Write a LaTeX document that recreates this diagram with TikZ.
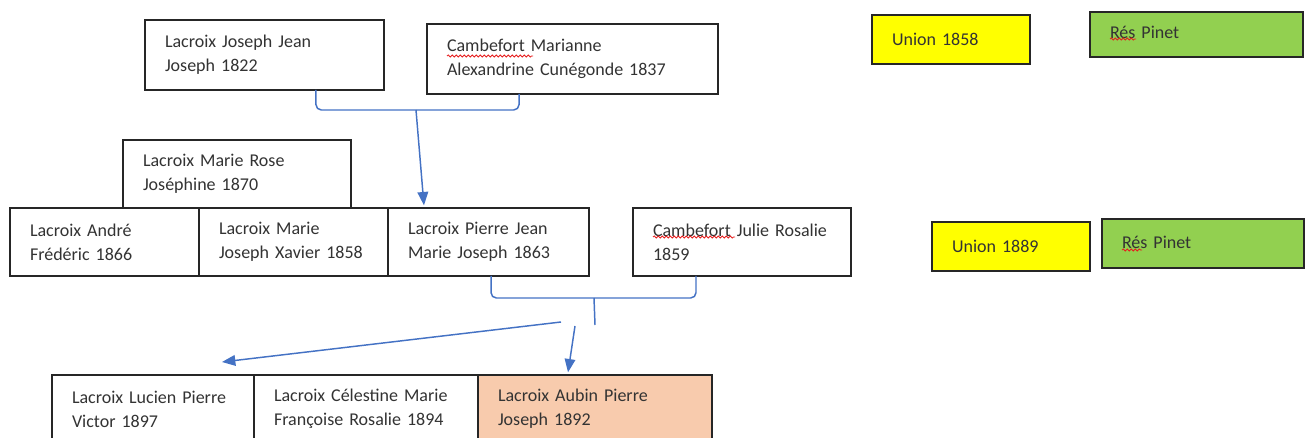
\documentclass[tikz,border=0pt]{standalone}
\usepackage{fontspec}
\setmainfont{Carlito}
\usetikzlibrary{arrows.meta,decorations.pathmorphing}
\definecolor{linkblue}{RGB}{68,114,196}
\definecolor{aubinfill}{RGB}{248,203,173}
\definecolor{unionfill}{RGB}{255,255,0}
\definecolor{resfill}{RGB}{146,208,80}
\definecolor{spellred}{RGB}{230,30,30}

\begin{document}
\begin{tikzpicture}[x=0.75pt,y=-0.75pt,
    pbox/.style={draw=black!85,line width=1.1pt,fill=white,anchor=north west,inner xsep=15pt,inner ysep=0pt,outer sep=0pt,minimum height=51pt,text width=#1,align=left,text=black!80,font=\fontsize{13.5}{18}\selectfont},
    pbox/.default=100pt,
    tag/.style={pbox=#1,minimum height=36.75pt},
    bracket/.style={draw=linkblue,line width=1.1pt,rounded corners=4pt},
    link/.style={draw=linkblue,line width=1.1pt,-{Triangle[length=10pt,width=8pt]}},
    spell/.style={draw=spellred,line width=0.6pt,decorate,decoration={snake,amplitude=0.8pt,segment length=3pt}}]
    \useasboundingbox (0,0) rectangle (1306,438);

    % parents
    \node[pbox=149.25pt,minimum height=52.5pt] (joseph) at (145,20) {Lacroix Joseph Jean\\Joseph 1822};
    \node[pbox=188.25pt,minimum height=52.5pt] (marianne) at (427,24) {Cambefort Marianne\\Alexandrine Cunégonde 1837};

    % children of 1858
    \node[pbox=141pt] (rose) at (123,140) {Lacroix Marie Rose\\Joséphine 1870};
    \node[pbox=111.75pt] (andre) at (10,208) {Lacroix André\\Frédéric 1866};
    \node[pbox=111.75pt] (xavier) at (andre.north east) {Lacroix Marie\\Joseph Xavier 1858};
    \node[pbox=120.75pt] (pierre) at (xavier.north east) {Lacroix Pierre Jean\\Marie Joseph 1863};
    \node[pbox=133.5pt] (julie) at (633,208) {Cambefort Julie Rosalie\\1859};

    % children of 1889
    \node[pbox=121.5pt] (lucien) at (52,375) {Lacroix Lucien Pierre\\Victor 1897};
    \node[pbox=138pt] (celestine) at (lucien.north east) {Lacroix Célestine Marie\\Françoise Rosalie 1894};
    \node[pbox=145.5pt,fill=aubinfill] (aubin) at (celestine.north east) {Lacroix Aubin Pierre\\Joseph 1892};

    % unions
    \node[tag=88.5pt,fill=unionfill] (union1) at (872,15) {Union 1858};
    \node[tag=129.75pt,minimum height=33.75pt,fill=resfill,text depth=3pt] (res1) at (1090,12) {Rés Pinet};
    \node[tag=88.5pt,fill=unionfill] (union2) at (932,222) {Union 1889};
    \node[tag=121.5pt,fill=resfill,text depth=2pt] (res2) at (1102,219) {Rés Pinet};

    \coordinate (u1) at (416,110);
    \coordinate (u2) at (594,298);
    \coordinate (u2t) at (595,325);
    \coordinate (s1) at (561,322);
    \coordinate (s2) at (575,326);

    \draw[bracket] ([xshift=38.6pt]joseph.south) |- (u1) -| ([xshift=-40.1pt]marianne.south);
    \draw[link] (u1) -- ([xshift=-48.4pt,yshift=2pt]pierre.north);
    \draw[bracket] ([xshift=1.9pt]pierre.south) |- (u2) -| ([xshift=-34.5pt]julie.south);
    \draw[bracket] (u2) -- (u2t);
    \draw[link] (s1) -- ([xshift=51.75pt,yshift=9.75pt]lucien.north);
    \draw[link] (s2) -- ([xshift=-20.25pt,yshift=2pt]aubin.north);

    \draw[spell] (447,56) -- (533,56);
    \draw[spell] (653,237) -- (735,237);
    \draw[spell] (1110,39) -- (1136,39);
    \draw[spell] (1122,250) -- (1142,250);
\end{tikzpicture}
\end{document}
